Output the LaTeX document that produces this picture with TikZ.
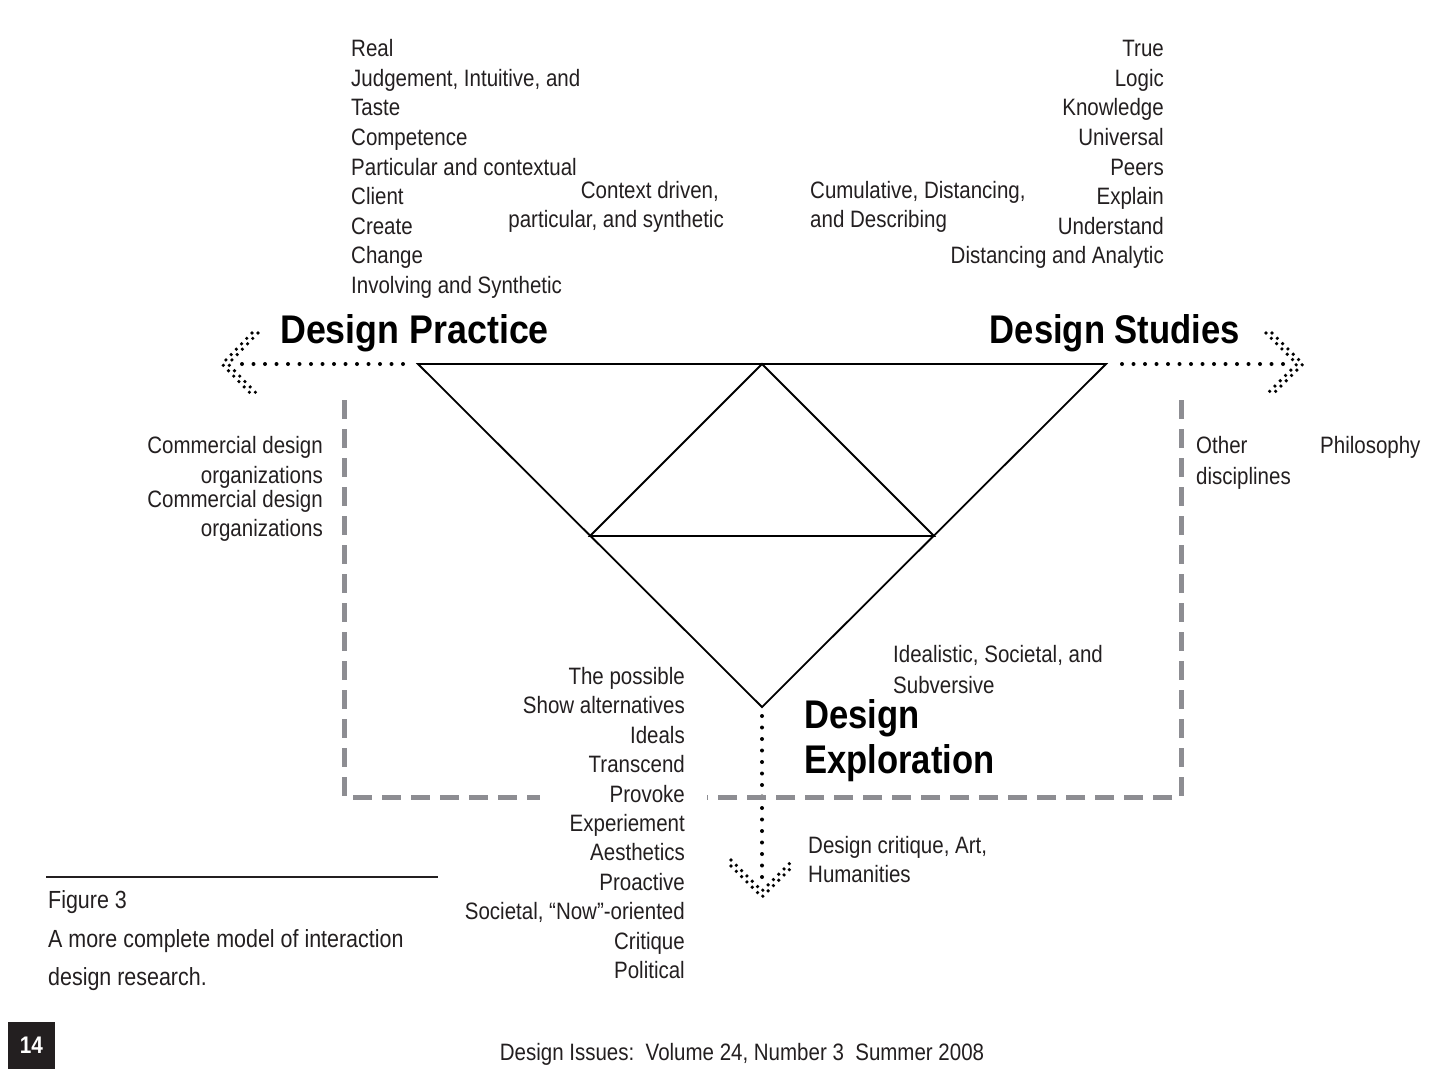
\documentclass[tikz,border=0pt]{standalone}
\usepackage{fontspec}
\setmainfont{Liberation Sans}[FakeStretch=0.865]
\definecolor{ink}{HTML}{231F20}
\definecolor{frameGray}{HTML}{8D8D92}
\begin{document}
\begin{tikzpicture}[x=1pt,y=-1pt,
  txt/.style={font=\fontsize{23.7}{29.6}\selectfont, text=ink, inner sep=0pt},
  captxt/.style={font=\fontsize{24.8}{30}\selectfont, text=ink, inner sep=0pt},
  ttl/.style={font=\fontsize{40}{45}\selectfont\bfseries, text=black, inner sep=0pt},
  tri/.style={line width=1.8pt, draw=black, line join=miter},
  dotline/.style={line width=4pt, line cap=round, dash pattern=on 0pt off 11.5pt, draw=black},
  dothead/.style={line width=3.6pt, line cap=round, dash pattern=on 0pt off 7.5pt, draw=black},
  frame/.style={line width=5pt, draw=frameGray, dash pattern=on 19pt off 10pt}]
\useasboundingbox (0,0) rectangle (1432,1077);
\fill[white] (0,0) rectangle (1432,1077);

% triangle
\coordinate (TL) at (418,364);
\coordinate (TR) at (1106,364);
\coordinate (TM) at (762,364);
\coordinate (BT) at (762,707);
\coordinate (ML) at (590,536);
\coordinate (MR) at (934,536);
\draw[tri] (TL) -- (TR) -- (BT) -- cycle;
\draw[tri] (ML) -- (TM) -- (MR) -- cycle;

% dotted arrows
\coordinate (LA0) at (403,364);
\coordinate (LA1) at (232,364);
\coordinate (LT) at (222,364);
\draw[dotline] (LA0) -- (LA1);
\draw[dothead] (252,333) -- (LT) -- (252,395);
\draw[dothead] (258,333) -- (228,364) -- (258,395);

\coordinate (RA0) at (1122,364);
\coordinate (RA1) at (1292,364);
\coordinate (RT) at (1303,364);
\draw[dotline] (RA0) -- (RA1);
\draw[dothead] (1272,333) -- (RT) -- (1272,395);
\draw[dothead] (1266,333) -- (1297,364) -- (1266,395);

\coordinate (DA0) at (762,716);
\coordinate (DA1) at (762,884);
\coordinate (DT) at (762,897);
\draw[dotline] (DA0) -- (DA1);
\draw[dothead] (731,866) -- (DT) -- (793,866);
\draw[dothead] (731,860) -- (762,891) -- (793,860);

% dashed frame
\coordinate (FL0) at (344,400);
\coordinate (FLB) at (344,797);
\coordinate (FB1) at (540,797);
\coordinate (FB2) at (707,797);
\coordinate (FRB) at (1181,797);
\coordinate (FR0) at (1181,400);
\draw[frame] (FL0) -- (FLB) -- (FB1);
\draw[frame] (FR0) -- (FRB) -- (FB2);

% titles
\node[ttl, anchor=base west] (dp) at (280,343) {\scalebox{1.035}[1]{Design Practice}};
\node[ttl, anchor=base east] (ds) at (1240,343) {Design Studies};
\node[ttl, anchor=base west] (de1) at (804,728) {Design};
\node[ttl, anchor=base west] (de2) at (804,773) {Exploration};

% left column
\foreach \t [count=\i] in {Real, {Judgement, Intuitive, and}, Taste, Competence, Particular and contextual, Client, Create, Change, Involving and Synthetic}
  \node[txt, anchor=base west] (L\i) at (351,{56.7+29.6*(\i-1)}) {\t};

% right column
\foreach \t [count=\i] in {True, Logic, Knowledge, Universal, Peers, Explain, Understand, Distancing and Analytic}
  \node[txt, anchor=base east] (R\i) at (1164,{56.7+29.6*(\i-1)}) {\t};

\node[txt, anchor=base east] (cd1) at (719,198.5) {Context driven,};
\node[txt, anchor=base east] (cd2) at (724,227.5) {particular, and synthetic};
\node[txt, anchor=base west] (cu1) at (810,198.5) {Cumulative, Distancing,};
\node[txt, anchor=base west] (cu2) at (810,227.5) {and Describing};

% commercial
\node[txt, anchor=base east] (co1) at (323,453) {Commercial design};
\node[txt, anchor=base east] (co2) at (323,483) {organizations};
\node[txt, anchor=base east] (co3) at (323,507) {Commercial design};
\node[txt, anchor=base east] (co4) at (323,536) {organizations};

\node[txt, anchor=base west] (ot1) at (1196,453) {Other};
\node[txt, anchor=base west] (ot2) at (1196,484) {disciplines};
\node[txt, anchor=base west] (ph) at (1320,453) {Philosophy};

\node[txt, anchor=base west] (id1) at (893,662.5) {Idealistic, Societal, and};
\node[txt, anchor=base west] (id2) at (893,693.5) {Subversive};

\node[txt, anchor=base west] (dc1) at (808,853.5) {Design critique, Art,};
\node[txt, anchor=base west] (dc2) at (808,882.5) {Humanities};

% bottom middle column
\foreach \t [count=\i] in {The possible, Show alternatives, Ideals, Transcend, Provoke, Experiement, Aesthetics, Proactive, {Societal, “Now”-oriented}, Critique, Political}
  \node[txt, anchor=base east] (M\i) at (685,{684.5+29.4*(\i-1)}) {\t};

% caption
\coordinate (CR0) at (46,877);
\coordinate (CR1) at (438,877);
\draw[line width=1.6pt, draw=ink] (CR0) -- (CR1);
\node[captxt, anchor=base west] (cap1) at (48,908) {Figure 3};
\node[captxt, anchor=base west] (cap2) at (48,947) {A more complete model of interaction};
\node[captxt, anchor=base west] (cap3) at (48,985) {design research.};

% page number
\node[fill=ink, minimum width=47pt, minimum height=47pt, inner sep=0pt, text=white,
  font=\fontsize{24}{24}\selectfont\bfseries] (pg) at (31.5,1045.5) {14};

% footer
\node[txt, anchor=base] (ft) at (742,1060) {Design Issues:\ \ Volume 24, Number 3\ \ Summer 2008};
\end{tikzpicture}
\end{document}
